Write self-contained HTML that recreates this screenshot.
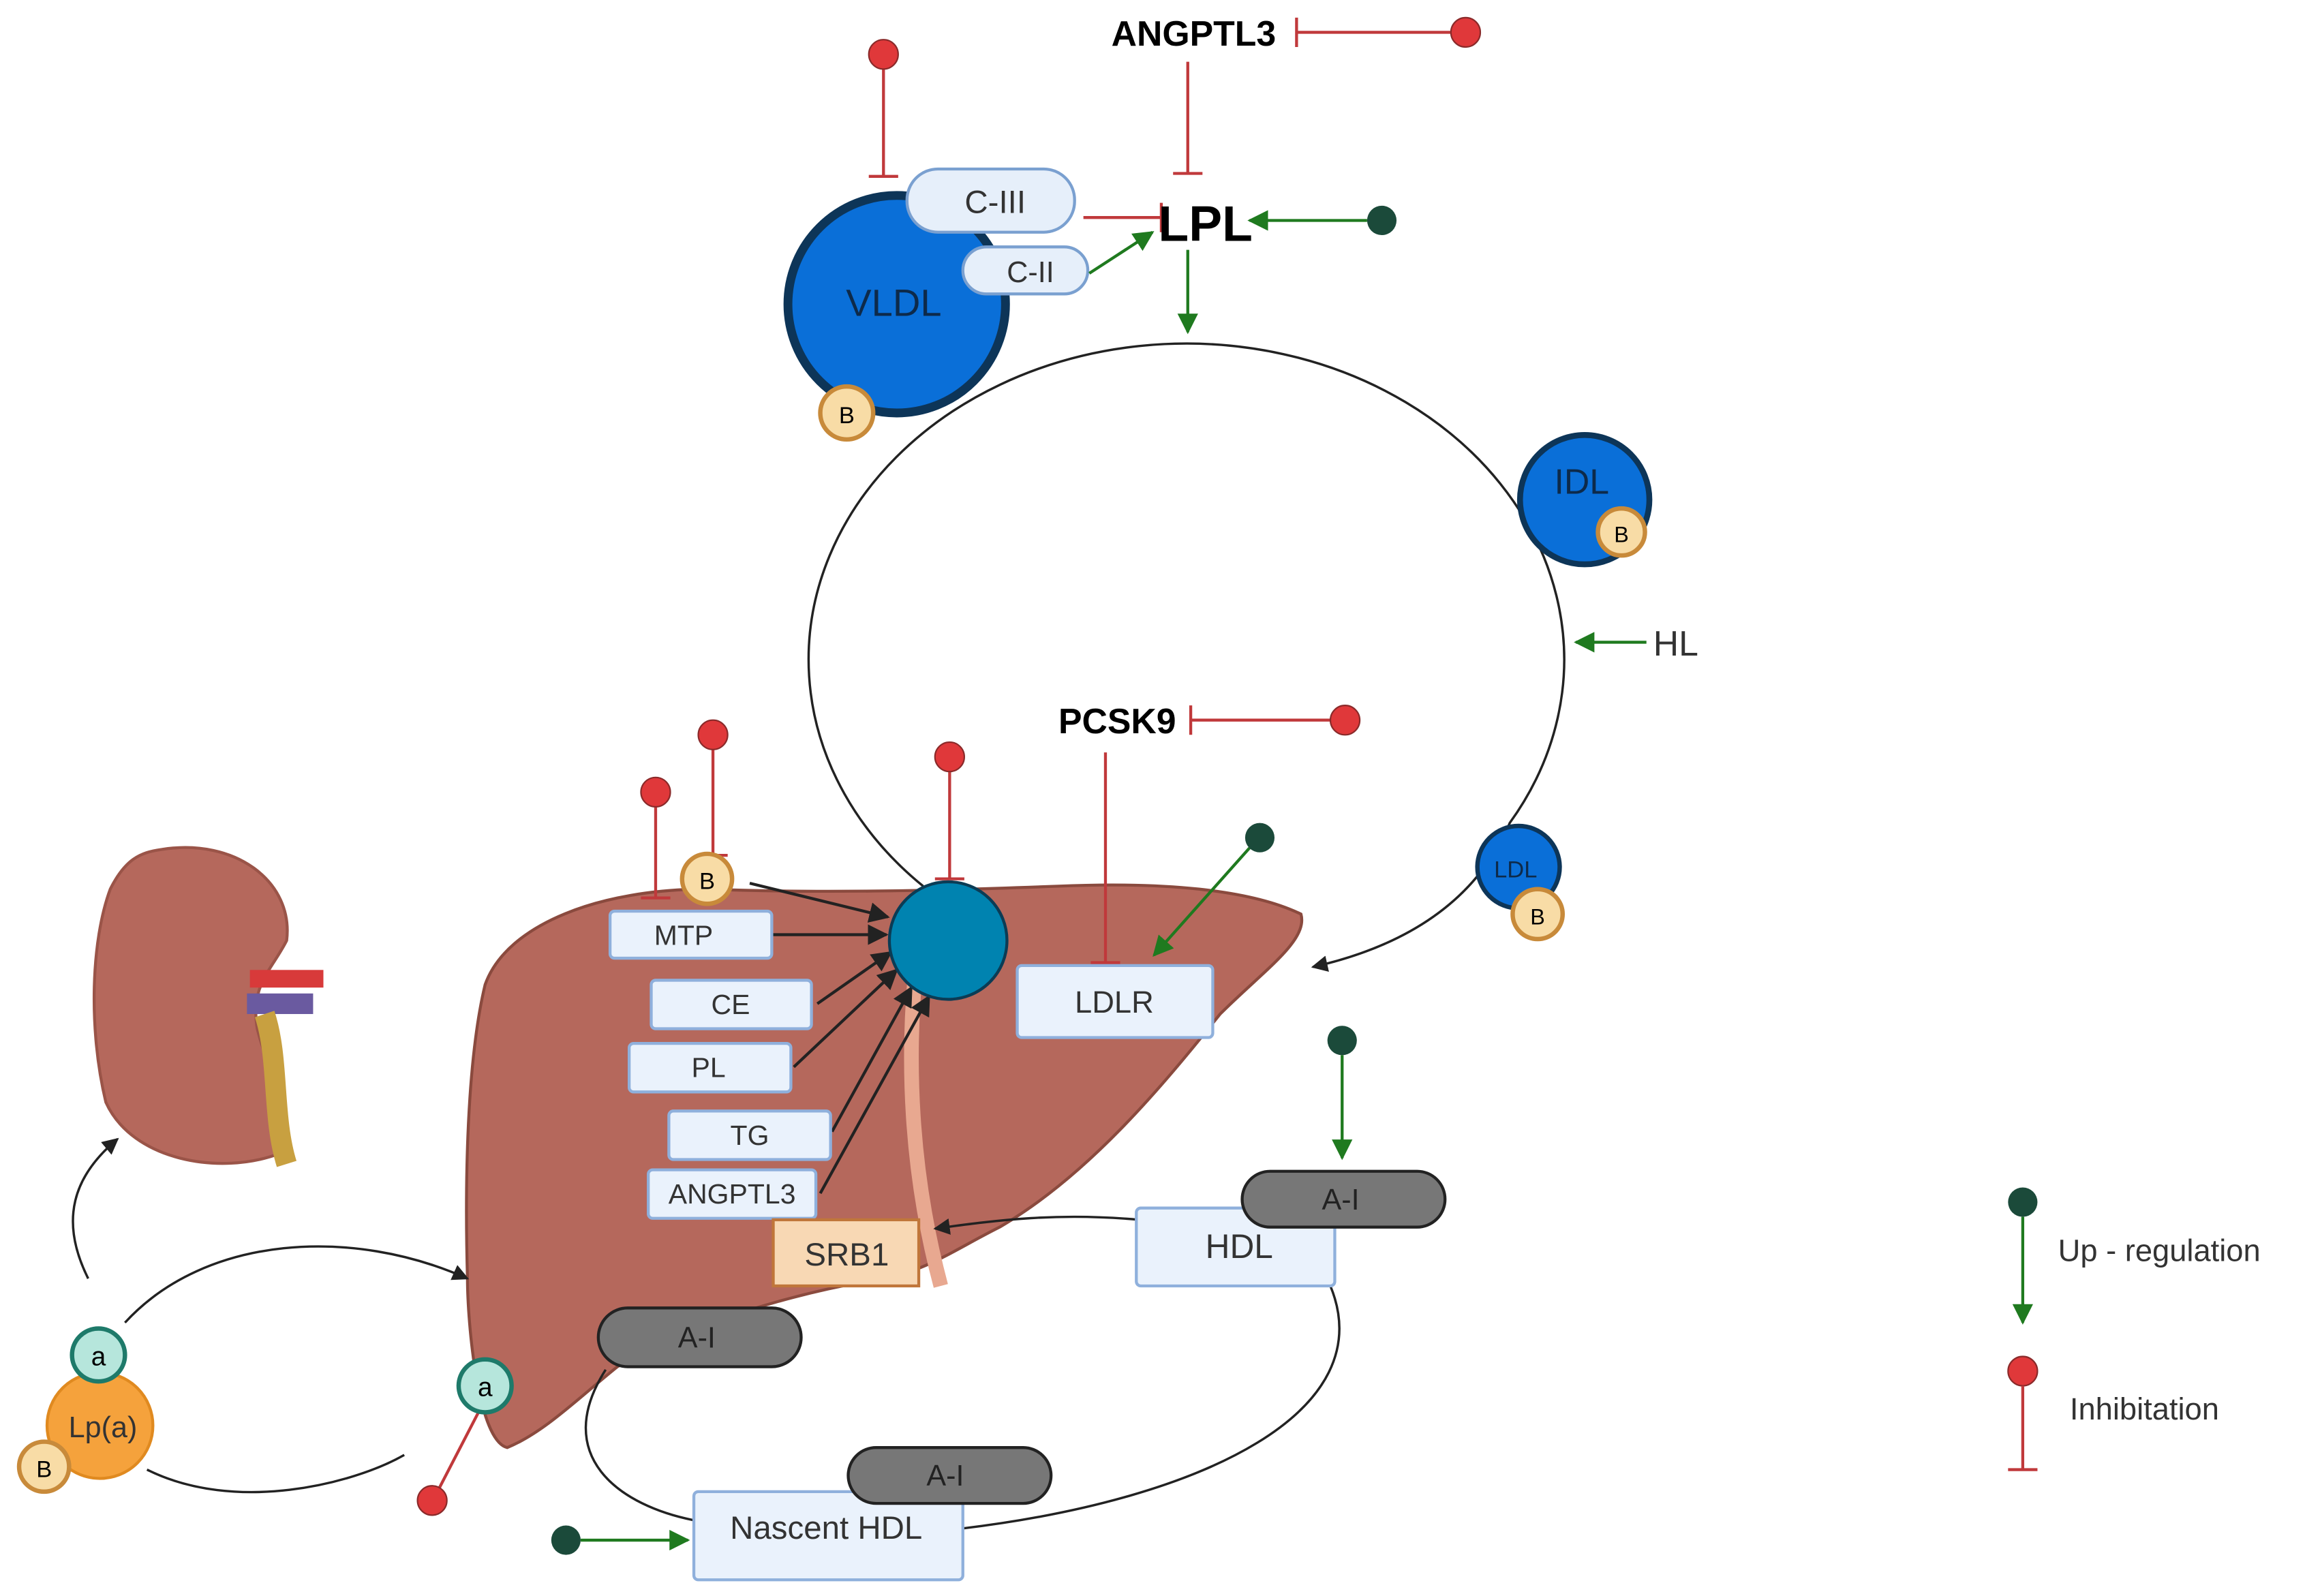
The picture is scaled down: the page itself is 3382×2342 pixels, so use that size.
<!DOCTYPE html>
<html><head><meta charset="utf-8"><style>
html,body{margin:0;padding:0;background:#fff;}
svg{display:block;}
text{font-family:"Liberation Sans",sans-serif;}
</style></head><body>
<svg width="3382" height="2342" viewBox="0 0 1568 1086" preserveAspectRatio="none" xmlns="http://www.w3.org/2000/svg">
<defs>
<marker id="ab" viewBox="0 0 10 10" refX="9" refY="5" markerWidth="7" markerHeight="7" orient="auto"><path d="M0,0 L10,5 L0,10 z" fill="#222"/></marker>
<marker id="ag" viewBox="0 0 10 10" refX="9" refY="5" markerWidth="7" markerHeight="7" orient="auto"><path d="M0,0 L10,5 L0,10 z" fill="#1f7a1f"/></marker>
</defs>
<rect width="1568" height="1086" fill="#fff"/>

<!-- big cycle -->
<path d="M 628 603 A 257 215 0 1 1 1027 560 Q 995 635 893 658" fill="none" stroke="#222" stroke-width="1.6" marker-end="url(#ab)"/>

<!-- kidney -->
<path d="M110 578 C160 570 200 600 195 640 C185 660 170 670 175 700 C185 740 205 760 190 785 C150 800 90 790 72 750 C60 700 62 640 75 605 C85 585 95 580 110 578 Z" fill="#b5685c" stroke="#9a5448" stroke-width="2"/>
<rect x="170" y="660" width="50" height="12" fill="#d83a3a"/>
<rect x="168" y="676" width="45" height="14" fill="#6a5aa0"/>
<path d="M180 690 C190 720 185 760 195 792" stroke="#c8a040" stroke-width="14" fill="none"/>

<!-- liver -->
<path d="M330 670 C345 628 410 605 480 605 C560 608 640 606 720 603 C790 600 850 605 885 622 C890 640 860 660 830 690 C790 740 740 800 680 835 C650 850 630 865 600 870 C540 880 470 900 420 930 C395 950 370 975 345 985 C325 980 318 900 318 870 C316 800 318 720 330 670 Z" fill="#b5685c" stroke="#8a4a3e" stroke-width="2"/>
<path d="M625 640 C615 720 620 800 640 875" stroke="#e8a890" stroke-width="10" fill="none"/>

<!-- Lp(a) loop -->
<path d="M85 900 C140 840 240 835 318 870" fill="none" stroke="#222" stroke-width="1.6" marker-end="url(#ab)"/>
<path d="M100 1000 C160 1030 240 1010 275 990" fill="none" stroke="#222" stroke-width="1.6"/>
<path d="M60 870 C40 830 50 800 80 775" fill="none" stroke="#222" stroke-width="1.6" marker-end="url(#ab)"/>
<circle cx="68" cy="970" r="36" fill="#f5a23c" stroke="#e08a20" stroke-width="2"/>
<text x="70" y="978" font-size="20" text-anchor="middle" fill="#333">Lp(a)</text>
<circle cx="67" cy="922" r="18" fill="#b6e6dc" stroke="#1e7a6a" stroke-width="3"/><text x="67" y="929" font-size="18" text-anchor="middle">a</text>
<circle cx="30" cy="998" r="17" fill="#f8dca6" stroke="#c88a3a" stroke-width="3"/><text x="30" y="1005" font-size="16" text-anchor="middle">B</text>
<line x1="326" y1="960" x2="296" y2="1018" stroke="#c0393b" stroke-width="2"/>
<circle cx="294" cy="1021" r="10" fill="#e0383a" stroke="#8a2a2a"/>
<circle cx="330" cy="943" r="18" fill="#b6e6dc" stroke="#1e7a6a" stroke-width="3"/><text x="330" y="950" font-size="18" text-anchor="middle">a</text>

<!-- HDL loops -->
<path d="M905 875 C940 960 820 1020 655 1040" fill="none" stroke="#222" stroke-width="1.6"/>
<path d="M412 932 C375 990 420 1025 475 1035" fill="none" stroke="#222" stroke-width="1.6"/>
<path d="M775 830 C720 825 680 830 636 836" fill="none" stroke="#222" stroke-width="1.6" marker-end="url(#ab)"/>

<!-- VLDL -->
<circle cx="610" cy="207" r="74" fill="#0a6fd8" stroke="#0d3558" stroke-width="6"/>
<text x="608" y="215" font-size="26" text-anchor="middle" fill="#0d2a4a">VLDL</text>
<circle cx="576" cy="281" r="18" fill="#f8dca6" stroke="#c88a3a" stroke-width="3"/><text x="576" y="288" font-size="16" text-anchor="middle">B</text>
<rect x="617" y="115" width="114" height="43" rx="21" fill="#e6effa" stroke="#7aa0d0" stroke-width="2"/><text x="677" y="145" font-size="22" text-anchor="middle" fill="#333">C-III</text>
<rect x="655" y="168" width="85" height="32" rx="16" fill="#e6effa" stroke="#7aa0d0" stroke-width="2"/><text x="701" y="192" font-size="20" text-anchor="middle" fill="#333">C-II</text>
<line x1="601" y1="47" x2="601" y2="120" stroke="#c0393b" stroke-width="2"/><line x1="591" y1="120" x2="611" y2="120" stroke="#c0393b" stroke-width="2"/>
<circle cx="601" cy="37" r="10" fill="#e0383a" stroke="#8a2a2a"/>
<line x1="737" y1="148" x2="790" y2="148" stroke="#c0393b" stroke-width="2"/><line x1="790" y1="138" x2="790" y2="158" stroke="#c0393b" stroke-width="2"/>
<line x1="741" y1="186" x2="784" y2="158" stroke="#1f7a1f" stroke-width="2" marker-end="url(#ag)"/>
<text x="820" y="164" font-size="34" font-weight="bold" text-anchor="middle">LPL</text>
<line x1="930" y1="150" x2="850" y2="150" stroke="#1f7a1f" stroke-width="2" marker-end="url(#ag)"/>
<circle cx="940" cy="150" r="10" fill="#1b4a3a"/>
<line x1="808" y1="170" x2="808" y2="226" stroke="#1f7a1f" stroke-width="2" marker-end="url(#ag)"/>
<text x="812" y="31" font-size="24" font-weight="bold" text-anchor="middle">ANGPTL3</text>
<line x1="882" y1="22" x2="988" y2="22" stroke="#c0393b" stroke-width="2"/><line x1="882" y1="12" x2="882" y2="32" stroke="#c0393b" stroke-width="2"/>
<circle cx="997" cy="22" r="10" fill="#e0383a" stroke="#8a2a2a"/>
<line x1="808" y1="42" x2="808" y2="118" stroke="#c0393b" stroke-width="2"/><line x1="798" y1="118" x2="818" y2="118" stroke="#c0393b" stroke-width="2"/>

<!-- IDL / LDL -->
<circle cx="1078" cy="340" r="44" fill="#0a6fd8" stroke="#0d3558" stroke-width="4"/>
<text x="1076" y="336" font-size="24" text-anchor="middle" fill="#0d2a4a">IDL</text>
<circle cx="1103" cy="362" r="16" fill="#f8dca6" stroke="#c88a3a" stroke-width="3"/><text x="1103" y="369" font-size="15" text-anchor="middle">B</text>
<line x1="1120" y1="437" x2="1072" y2="437" stroke="#1f7a1f" stroke-width="2" marker-end="url(#ag)"/>
<text x="1140" y="446" font-size="24" text-anchor="middle" fill="#333">HL</text>
<circle cx="1033" cy="590" r="28" fill="#0a6fd8" stroke="#0d3558" stroke-width="3"/>
<text x="1031" y="597" font-size="16" text-anchor="middle" fill="#0d2a4a">LDL</text>
<circle cx="1046" cy="622" r="17" fill="#f8dca6" stroke="#c88a3a" stroke-width="3"/><text x="1046" y="629" font-size="15" text-anchor="middle">B</text>

<!-- PCSK9 -->
<text x="760" y="499" font-size="24" font-weight="bold" text-anchor="middle">PCSK9</text>
<line x1="810" y1="490" x2="906" y2="490" stroke="#c0393b" stroke-width="2"/><line x1="810" y1="480" x2="810" y2="500" stroke="#c0393b" stroke-width="2"/>
<circle cx="915" cy="490" r="10" fill="#e0383a" stroke="#8a2a2a"/>
<line x1="752" y1="512" x2="752" y2="655" stroke="#c0393b" stroke-width="2"/><line x1="742" y1="655" x2="762" y2="655" stroke="#c0393b" stroke-width="2"/>
<line x1="850" y1="577" x2="785" y2="650" stroke="#1f7a1f" stroke-width="2" marker-end="url(#ag)"/>
<circle cx="857" cy="570" r="10" fill="#1b4a3a"/>

<!-- central hepatocyte arrows -->
<g stroke="#222" stroke-width="2" marker-end="url(#ab)">
<line x1="510" y1="601" x2="604" y2="624"/>
<line x1="526" y1="636" x2="603" y2="636"/>
<line x1="556" y1="683" x2="606" y2="648"/>
<line x1="540" y1="726" x2="610" y2="660"/>
<line x1="566" y1="770" x2="620" y2="672"/>
<line x1="558" y1="812" x2="632" y2="678"/>
</g>
<circle cx="645" cy="640" r="40" fill="#0083b0" stroke="#0b3c55" stroke-width="2"/>
<line x1="646" y1="525" x2="646" y2="598" stroke="#c0393b" stroke-width="2"/><line x1="636" y1="598" x2="656" y2="598" stroke="#c0393b" stroke-width="2"/>
<circle cx="646" cy="515" r="10" fill="#e0383a" stroke="#8a2a2a"/>
<line x1="485" y1="510" x2="485" y2="582" stroke="#c0393b" stroke-width="2"/><line x1="475" y1="582" x2="495" y2="582" stroke="#c0393b" stroke-width="2"/>
<circle cx="485" cy="500" r="10" fill="#e0383a" stroke="#8a2a2a"/>
<line x1="446" y1="549" x2="446" y2="611" stroke="#c0393b" stroke-width="2"/><line x1="436" y1="611" x2="456" y2="611" stroke="#c0393b" stroke-width="2"/>
<circle cx="446" cy="539" r="10" fill="#e0383a" stroke="#8a2a2a"/>
<circle cx="481" cy="598" r="17" fill="#f8dca6" stroke="#c88a3a" stroke-width="3"/><text x="481" y="605" font-size="16" text-anchor="middle">B</text>

<g fill="#eaf2fc" stroke="#8fb0dc" stroke-width="2">
<rect x="415" y="620" width="110" height="32" rx="3"/>
<rect x="443" y="667" width="109" height="33" rx="3"/>
<rect x="428" y="710" width="110" height="33" rx="3"/>
<rect x="455" y="756" width="110" height="33" rx="3"/>
<rect x="441" y="796" width="114" height="33" rx="3"/>
<rect x="692" y="657" width="133" height="49" rx="3"/>
<rect x="773" y="822" width="135" height="53" rx="3"/>
<rect x="472" y="1015" width="183" height="60" rx="3"/>
</g>
<g font-size="19" fill="#333" text-anchor="middle">
<text x="465" y="643">MTP</text>
<text x="497" y="690">CE</text>
<text x="482" y="733">PL</text>
<text x="510" y="779">TG</text>
<text x="498" y="819">ANGPTL3</text>
<text x="758" y="689" font-size="21">LDLR</text>
<text x="843" y="856" font-size="23">HDL</text>
<text x="562" y="1047" font-size="22">Nascent HDL</text>
</g>
<rect x="526" y="830" width="99" height="45" fill="#f8d8b4" stroke="#c0763a" stroke-width="2"/>
<text x="576" y="861" font-size="22" text-anchor="middle" fill="#333">SRB1</text>

<!-- A-I pills -->
<g fill="#777" stroke="#222" stroke-width="2">
<rect x="845" y="797" width="138" height="38" rx="19"/>
<rect x="407" y="890" width="138" height="40" rx="20"/>
<rect x="577" y="985" width="138" height="38" rx="19"/>
</g>
<g font-size="20" fill="#222" text-anchor="middle">
<text x="912" y="823">A-I</text>
<text x="474" y="917">A-I</text>
<text x="643" y="1011">A-I</text>
</g>
<line x1="913" y1="718" x2="913" y2="788" stroke="#1f7a1f" stroke-width="2" marker-end="url(#ag)"/>
<circle cx="913" cy="708" r="10" fill="#1b4a3a"/>
<line x1="395" y1="1048" x2="468" y2="1048" stroke="#1f7a1f" stroke-width="2" marker-end="url(#ag)"/>
<circle cx="385" cy="1048" r="10" fill="#1b4a3a"/>

<!-- legend -->
<circle cx="1376" cy="818" r="10" fill="#1b4a3a"/>
<line x1="1376" y1="828" x2="1376" y2="900" stroke="#1f7a1f" stroke-width="2" marker-end="url(#ag)"/>
<text x="1400" y="858" font-size="21" fill="#333">Up - regulation</text>
<circle cx="1376" cy="933" r="10" fill="#e0383a" stroke="#8a2a2a"/>
<line x1="1376" y1="943" x2="1376" y2="1000" stroke="#c0393b" stroke-width="2"/><line x1="1366" y1="1000" x2="1386" y2="1000" stroke="#c0393b" stroke-width="2"/>
<text x="1408" y="966" font-size="21" fill="#333">Inhibitation</text>
</svg>
</body></html>
